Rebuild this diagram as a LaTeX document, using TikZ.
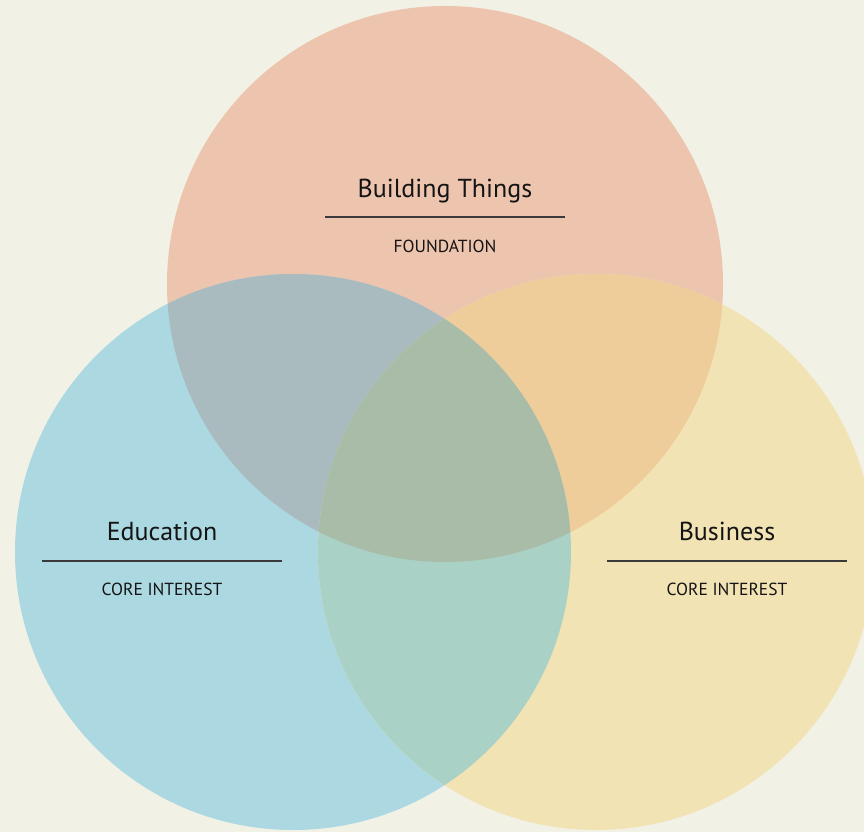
\documentclass[tikz,border=0pt]{standalone}
\usepackage{fontspec}
\setmainfont{PT Sans}
\definecolor{bgc}{HTML}{F2F1E6}
\definecolor{salmon}{HTML}{EDC4AE}
\definecolor{skyb}{HTML}{ACD8E2}
\definecolor{sand}{HTML}{F2E3B5}
\definecolor{ovTL}{HTML}{A9BBBE}
\definecolor{ovTR}{HTML}{EECD9A}
\definecolor{ovLR}{HTML}{AAD1C5}
\definecolor{ovC}{HTML}{A9BCA8}
\definecolor{ink}{HTML}{141414}
\definecolor{rule}{HTML}{3A3A3A}
\tikzset{
  title/.style={font=\fontsize{26}{29}\selectfont, text=ink, inner sep=0pt, anchor=base},
  sub/.style={font=\fontsize{17.5}{20}\selectfont, text=ink, inner sep=0pt, anchor=base},
  rulel/.style={draw=rule, line width=1.4pt},
}
\begin{document}
\begin{tikzpicture}[x=1pt,y=-1pt]
\useasboundingbox (0,0) rectangle (864,832);
\clip (0,0) rectangle (864,832);
\fill[bgc] (0,0) rectangle (864,832);
\coordinate (T) at (445,284);
\coordinate (L) at (293,552);
\coordinate (R) at (596,552);
\def\rr{278pt}
\fill[salmon] (T) circle[radius=\rr];
\fill[skyb] (L) circle[radius=\rr];
\fill[sand] (R) circle[radius=\rr];
\begin{scope}
  \clip (T) circle[radius=\rr];
  \fill[ovTL] (L) circle[radius=\rr];
  \fill[ovTR] (R) circle[radius=\rr];
\end{scope}
\begin{scope}
  \clip (L) circle[radius=\rr];
  \fill[ovLR] (R) circle[radius=\rr];
  \clip (T) circle[radius=\rr];
  \fill[ovC] (R) circle[radius=\rr];
\end{scope}
% labels
\node[title] (bt) at (445,197) {Building Things};
\coordinate (bt1) at (325,217);
\coordinate (bt2) at (565,217);
\draw[rulel] (bt1) -- (bt2);
\node[sub] (bts) at (445,252) {FOUNDATION};

\node[title] (ed) at (162,540) {Education};
\coordinate (ed1) at (42,561);
\coordinate (ed2) at (282,561);
\draw[rulel] (ed1) -- (ed2);
\node[sub] (eds) at (162,595) {CORE INTEREST};

\node[title] (bu) at (727,540) {Business};
\coordinate (bu1) at (607,561);
\coordinate (bu2) at (847,561);
\draw[rulel] (bu1) -- (bu2);
\node[sub] (bus) at (727,595) {CORE INTEREST};
\end{tikzpicture}
\end{document}
